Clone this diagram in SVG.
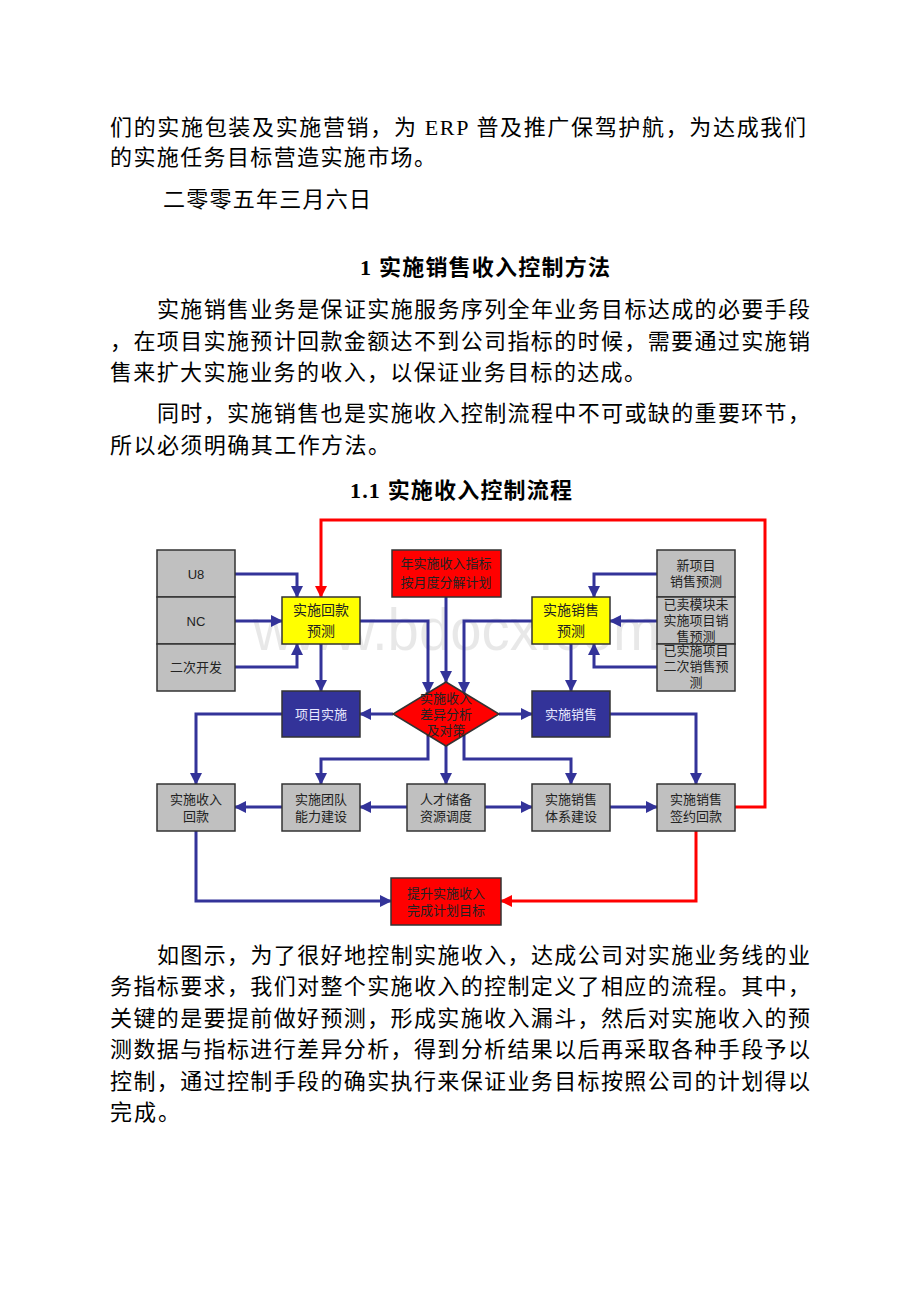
<svg xmlns="http://www.w3.org/2000/svg" width="920" height="1302" viewBox="0 0 920 1302">
<style>
.body{font-family:"Liberation Serif","Noto Sans CJK SC",serif;font-size:22px;fill:#000}
.head{font-family:"Liberation Serif","Noto Sans CJK SC",serif;font-size:22px;font-weight:bold;fill:#000}
.box{stroke:#333;stroke-width:1.5}
.gray{fill:#c0c0c0}
.yel{fill:#ffff00}
.red{fill:#ff0000}
.blue{fill:#333399}
.t{font-family:"Liberation Sans","Noto Sans CJK SC",sans-serif;font-size:13px;fill:#222;text-anchor:middle}
.tw{font-family:"Liberation Sans","Noto Sans CJK SC",sans-serif;font-size:13px;fill:#e8e8ff;text-anchor:middle}
.ty{font-family:"Liberation Sans","Noto Sans CJK SC",sans-serif;font-size:14px;fill:#222;text-anchor:middle}
.cb{fill:none;stroke:#333399;stroke-width:3;marker-end:url(#ab)}
.cr{fill:none;stroke:#ff0000;stroke-width:3;marker-end:url(#ar)}
.wm{font-family:"Liberation Sans",sans-serif;font-size:60px;fill:#000;fill-opacity:0.09}
</style>
<defs>
<marker id="ab" markerUnits="userSpaceOnUse" markerWidth="12" markerHeight="12" viewBox="0 0 12 12" refX="11" refY="6" orient="auto"><path d="M0,0 L12,6 L0,12 z" fill="#333399"/></marker>
<marker id="ar" markerUnits="userSpaceOnUse" markerWidth="12" markerHeight="12" viewBox="0 0 12 12" refX="11" refY="6" orient="auto"><path d="M0,0 L12,6 L0,12 z" fill="#ff0000"/></marker>
</defs>
<rect width="920" height="1302" fill="#fff"/>

<g id="text-top">
<text class="body" x="110" y="135" textLength="696">们的实施包装及实施营销，为 ERP 普及推广保驾护航，为达成我们</text>
<text class="body" x="110" y="165" textLength="326">的实施任务目标营造实施市场。</text>
<text class="body" x="163" y="207" textLength="208">二零零五年三月六日</text>
<text class="head" x="360" y="275" textLength="250">1 实施销售收入控制方法</text>
<text class="body" x="157" y="317" textLength="653">实施销售业务是保证实施服务序列全年业务目标达成的必要手段</text>
<text class="body" x="110" y="349" textLength="700">，在项目实施预计回款金额达不到公司指标的时候，需要通过实施销</text>
<text class="body" x="110" y="380" textLength="536">售来扩大实施业务的收入，以保证业务目标的达成。</text>
<text class="body" x="157" y="421" textLength="653">同时，实施销售也是实施收入控制流程中不可或缺的重要环节，</text>
<text class="body" x="110" y="453" textLength="280">所以必须明确其工作方法。</text>
<text class="head" x="350" y="498" textLength="222">1.1 实施收入控制流程</text>
</g>

<text class="wm" x="253" y="650" textLength="407" lengthAdjust="spacingAndGlyphs">www.bdocx.com</text>

<g id="connectors">
<path class="cb" d="M235,574 H297 V597"/>
<path class="cb" d="M235,621 H282"/>
<path class="cb" d="M235,667 H297 V644"/>
<path class="cb" d="M321,644 V691"/>
<path class="cb" d="M360,621 H428 V693"/>
<path class="cb" d="M446,597 V682"/>
<path class="cb" d="M532,621 H464 V693"/>
<path class="cb" d="M393,714 H360"/>
<path class="cb" d="M499,714 H532"/>
<path class="cb" d="M657,574 H594 V597"/>
<path class="cb" d="M657,621 H610"/>
<path class="cb" d="M657,667 H594 V644"/>
<path class="cb" d="M571,644 V691"/>
<path class="cb" d="M282,714 H196 V784"/>
<path class="cb" d="M610,714 H696 V784"/>
<path class="cb" d="M428,735 V759 H321 V784"/>
<path class="cb" d="M446,746 V784"/>
<path class="cb" d="M464,735 V759 H571 V784"/>
<path class="cb" d="M407,807 H360"/>
<path class="cb" d="M282,807 H235"/>
<path class="cb" d="M485,807 H532"/>
<path class="cb" d="M610,807 H657"/>
<path class="cb" d="M196,831 V901 H391"/>
<path class="cr" d="M696,831 V901 H501"/>
<path class="cr" d="M735,807 H765 V520 H321 V597"/>
</g>

<g id="n-u8"><rect class="box gray" x="157" y="550" width="78" height="47"/><text class="t" x="196" y="579">U8</text></g>
<g id="n-nc"><rect class="box gray" x="157" y="597" width="78" height="47"/><text class="t" x="196" y="626">NC</text></g>
<g id="n-dev"><rect class="box gray" x="157" y="644" width="78" height="47"/><text class="t" x="196" y="672">二次开发</text></g>

<g id="n-hkyc"><rect class="box yel" x="282" y="597" width="78" height="47"/><text class="ty" x="321" y="615">实施回款</text><text class="ty" x="321" y="636">预测</text></g>
<g id="n-zb"><rect class="box red" x="392" y="550" width="109" height="47"/><text class="t" x="446" y="568">年实施收入指标</text><text class="t" x="446" y="587">按月度分解计划</text></g>
<g id="n-xsyc"><rect class="box yel" x="532" y="597" width="78" height="47"/><text class="ty" x="571" y="615">实施销售</text><text class="ty" x="571" y="636">预测</text></g>

<g id="n-new"><rect class="box gray" x="657" y="550" width="78" height="47"/><text class="t" x="696" y="570">新项目</text><text class="t" x="696" y="586">销售预测</text></g>
<g id="n-sold"><rect class="box gray" x="657" y="597" width="78" height="47"/><text class="t" x="696" y="609">已卖模块未</text><text class="t" x="696" y="625">实施项目销</text><text class="t" x="696" y="641">售预测</text></g>
<g id="n-done"><rect class="box gray" x="657" y="644" width="78" height="47"/><text class="t" x="696" y="655">已实施项目</text><text class="t" x="696" y="671">二次销售预</text><text class="t" x="696" y="687">测</text></g>

<g id="n-xmss"><rect class="box blue" x="282" y="691" width="78" height="46"/><text class="tw" x="321" y="719">项目实施</text></g>
<g id="n-diff"><polygon class="box red" points="446,682 499,714 446,746 393,714"/><text class="t" x="446" y="703">实施收入</text><text class="t" x="446" y="719">差异分析</text><text class="t" x="446" y="735">及对策</text></g>
<g id="n-ssxs"><rect class="box blue" x="532" y="691" width="78" height="46"/><text class="tw" x="571" y="719">实施销售</text></g>

<g id="n-hk"><rect class="box gray" x="157" y="784" width="78" height="47"/><text class="t" x="196" y="804">实施收入</text><text class="t" x="196" y="821">回款</text></g>
<g id="n-td"><rect class="box gray" x="282" y="784" width="78" height="47"/><text class="t" x="321" y="804">实施团队</text><text class="t" x="321" y="821">能力建设</text></g>
<g id="n-rc"><rect class="box gray" x="407" y="784" width="78" height="47"/><text class="t" x="446" y="804">人才储备</text><text class="t" x="446" y="821">资源调度</text></g>
<g id="n-tx"><rect class="box gray" x="532" y="784" width="78" height="47"/><text class="t" x="571" y="804">实施销售</text><text class="t" x="571" y="821">体系建设</text></g>
<g id="n-qy"><rect class="box gray" x="657" y="784" width="78" height="47"/><text class="t" x="696" y="804">实施销售</text><text class="t" x="696" y="821">签约回款</text></g>

<g id="n-ts"><rect class="box red" x="391" y="878" width="110" height="47"/><text class="t" x="446" y="898">提升实施收入</text><text class="t" x="446" y="915">完成计划目标</text></g>

<g id="text-bottom">
<text class="body" x="157" y="963" textLength="653">如图示，为了很好地控制实施收入，达成公司对实施业务线的业</text>
<text class="body" x="110" y="994" textLength="700">务指标要求，我们对整个实施收入的控制定义了相应的流程。其中，</text>
<text class="body" x="110" y="1026" textLength="700">关键的是要提前做好预测，形成实施收入漏斗，然后对实施收入的预</text>
<text class="body" x="110" y="1057" textLength="700">测数据与指标进行差异分析，得到分析结果以后再采取各种手段予以</text>
<text class="body" x="110" y="1089" textLength="700">控制，通过控制手段的确实执行来保证业务目标按照公司的计划得以</text>
<text class="body" x="110" y="1120" textLength="70">完成。</text>
</g>
</svg>
